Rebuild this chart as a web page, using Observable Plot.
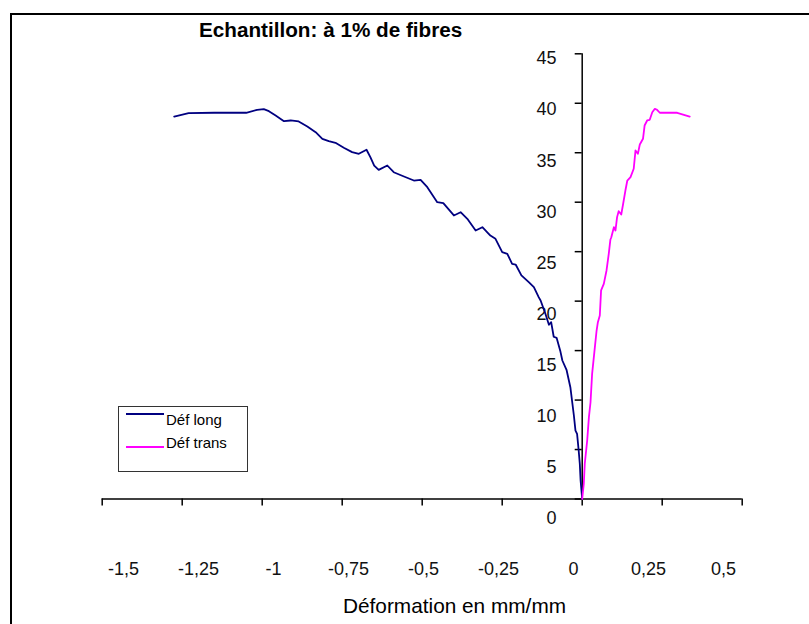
<!DOCTYPE html>
<html>
<head>
<meta charset="utf-8">
<script src="https://cdn.jsdelivr.net/npm/d3@7"></script>
<script src="https://cdn.jsdelivr.net/npm/@observablehq/plot@0.6"></script>
<style>
  body { margin: 0; background: #fff; }
  #page { position: relative; width: 809px; height: 624px; overflow: hidden;
          font-family: "Liberation Sans", Arial, sans-serif; color: #000; }
  #frame { position: absolute; left: 10px; top: 13px; width: 900px; height: 700px;
           border: 2px solid #000; box-sizing: border-box; }
  #chart { position: absolute; left: 0; top: 0; }
  #title { position: absolute; left: 199px; top: 18px; font-weight: bold; font-size: 20.7px; white-space: nowrap; }
  #xlabel { position: absolute; left: 343px; top: 594px; font-size: 20.8px; white-space: nowrap; }
  #legend { position: absolute; left: 118px; top: 406px; width: 130px; height: 66px;
            border: 1px solid #333; box-sizing: border-box; background: #fff; }
  .swatch { position: absolute; left: 7px; width: 38px; height: 2px; }
  .lab { position: absolute; left: 47px; font-size: 15px; line-height: 15px; white-space: nowrap; }
</style>
</head>
<body>
<div id="page">
  <div id="frame"></div>
  <div id="chart"></div>
  <div id="title">Echantillon: à 1% de fibres</div>
  <div id="xlabel">Déformation en mm/mm</div>
  <div id="legend"></div>
</div>
<script>
// Série "Déf long" : déformation longitudinale (mm/mm) et contrainte
const longX = [-1.275, -1.23, -1.15, -1.05, -1.016, -0.995, -0.979, -0.958, -0.932, -0.911, -0.886,
  -0.859, -0.833, -0.812, -0.792, -0.771, -0.745, -0.719, -0.698, -0.674, -0.662,
  -0.650, -0.636, -0.609, -0.589, -0.557, -0.526, -0.505, -0.484, -0.453, -0.434,
  -0.401, -0.380, -0.359, -0.333, -0.312, -0.287, -0.271, -0.250, -0.234, -0.219,
  -0.208, -0.190, -0.167, -0.151, -0.136, -0.130, -0.115, -0.104, -0.097, -0.089,
  -0.080, -0.068, -0.062, -0.049, -0.037, -0.026, -0.021, -0.016, -0.011, -0.0075,
  -0.005, 0];
const longY = [38.66, 39.0, 39.04, 39.04, 39.34, 39.4, 39.2, 38.76, 38.19, 38.26, 38.16,
  37.65, 37.08, 36.41, 36.17, 36.0, 35.5, 35.06, 34.89, 35.3, 34.55,
  33.7, 33.27, 33.71, 33.03, 32.6, 32.19, 32.26, 31.52, 30.0, 29.9,
  28.66, 28.99, 28.32, 27.14, 27.47, 26.63, 26.3, 24.95, 24.78, 23.77,
  23.7, 22.6, 21.92, 21.41, 20.4, 20.06, 18.72, 17.61, 17.87, 16.4,
  16.29, 14.9, 14.0, 13.06, 11.3, 8.44, 6.92, 6.59, 4.9, 3.56,
  1.87, 0];

// Série "Déf trans" : déformation transversale (mm/mm) et contrainte
const transX = [0, 0.005, 0.008, 0.0156, 0.021, 0.026, 0.031, 0.038, 0.045, 0.049,
  0.055, 0.059, 0.0675, 0.076, 0.083, 0.088, 0.091, 0.099, 0.104, 0.109,
  0.114, 0.122, 0.128, 0.135, 0.141, 0.151, 0.161, 0.1666, 0.174, 0.180,
  0.190, 0.195, 0.203, 0.211, 0.219, 0.227, 0.234, 0.2425, 0.297, 0.336];
const transY = [0, 1.54, 3.56, 5.91, 8.27, 9.78, 12.65, 14.84, 17.03, 17.87,
  18.55, 21.08, 21.75, 23.1, 24.78, 26.2, 26.46, 27.47, 27.14, 28.49,
  29.09, 28.76, 29.84, 31.18, 32.19, 32.53, 33.38, 35.23, 34.89, 35.83,
  36.41, 37.75, 38.26, 38.33, 39.1, 39.44, 39.34, 39.04, 39.04, 38.66];

// Graduations des axes
const xTicks = [-1.5, -1.25, -1, -0.75, -0.5, -0.25, 0, 0.25, 0.5];
const xTickLabels = ["-1,5", "-1,25", "-1", "-0,75", "-0,5", "-0,25", "0", "0,25", "0,5"];
const yTicks = [0, 5, 10, 15, 20, 25, 30, 35, 40, 45];
const yTickLabels = ["0", "5", "10", "15", "20", "25", "30", "35", "40", "45"];

const seriesNames = ["Déf long", "Déf trans"];
const seriesColors = ["#000080", "#ff00ff"];

const longData = longX.map((x, i) => ({x, y: longY[i]}));
const transData = transX.map((x, i) => ({x, y: transY[i]}));

// The tick labels are laid out on a slightly different spacing than the tick marks:
// horizontal labels are a little tighter, vertical labels a little looser.
const xLabelPos = v => 0.9375 * v - 0.0272;
const yLabelPos = v => 1.033 * v - 1.971;

const chart = Plot.plot({
  width: 809,
  height: 624,
  marginLeft: 101.7,
  marginRight: 67.3,
  marginTop: 53.3,
  marginBottom: 125.5,
  x: {domain: [-1.5, 0.5], axis: null},
  y: {domain: [0, 45], axis: null},
  style: {fontFamily: '"Liberation Sans", Arial, sans-serif', background: "transparent", color: "#000"},
  marks: [
    // horizontal axis through y = 0, ticks pointing down
    Plot.ruleY([0], {x1: -1.5, x2: 0.5, stroke: "#000", strokeWidth: 1.5}),
    Plot.ruleX(xTicks, {x: d => d, y1: 0, y2: 0, insetBottom: -7, stroke: "#000", strokeWidth: 1.5}),
    Plot.text(xTicks, {x: d => xLabelPos(d), y: 0, dy: 70.5, text: (d, i) => xTickLabels[i], fontSize: 18, fill: "#111"}),
    // vertical axis through x = 0, ticks pointing left
    Plot.ruleX([0], {y1: 0, y2: 45, stroke: "#000", strokeWidth: 1.5}),
    Plot.ruleY(yTicks, {y: d => d, x1: 0, x2: 0, insetLeft: -7, stroke: "#000", strokeWidth: 1.5}),
    Plot.text(yTicks, {x: 0, y: d => yLabelPos(d), dx: -25.7, textAnchor: "end", text: (d, i) => yTickLabels[i], fontSize: 18, fill: "#111"}),
    // curves
    Plot.line(longData, {x: "x", y: "y", stroke: seriesColors[0], strokeWidth: 1.8}),
    Plot.line(transData, {x: "x", y: "y", stroke: seriesColors[1], strokeWidth: 1.8})
  ]
});
document.getElementById("chart").appendChild(chart);

// legend box
const legend = document.getElementById("legend");
[[6, 5], [39, 28]].forEach(([lineTop, textTop], i) => {
  const sw = document.createElement("div");
  sw.className = "swatch";
  sw.style.top = lineTop + "px";
  sw.style.background = seriesColors[i];
  legend.appendChild(sw);
  const lab = document.createElement("div");
  lab.className = "lab";
  lab.style.top = textTop + "px";
  lab.textContent = seriesNames[i];
  legend.appendChild(lab);
});
</script>
</body>
</html>
